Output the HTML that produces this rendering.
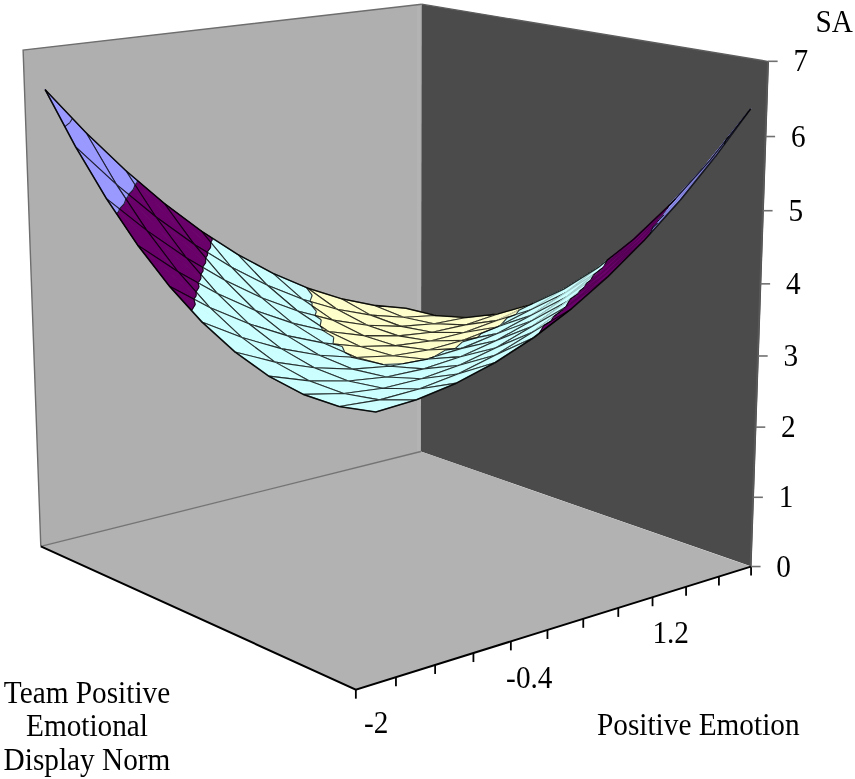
<!DOCTYPE html>
<html><head><meta charset="utf-8"><style>
html,body{margin:0;padding:0;background:#fff;}
body{width:855px;height:779px;overflow:hidden;position:relative;}
svg{position:absolute;left:0;top:0;will-change:transform;}
</style></head><body>
<svg width="855" height="779" viewBox="0 0 855 779">
<polygon points="40.8,546.3 23.1,50.1 421.6,4.2 420.9,451.5" fill="#afafaf"/>
<polyline points="40.8,546.3 23.1,50.1 421.6,4.2" fill="none" stroke="#6e6e6e" stroke-width="1.4"/>
<polygon points="420.9,451.5 421.6,4.2 769.0,61.6 751.5999999999999,566.6" fill="#4b4b4b"/>
<line x1="767.9000000000001" y1="61.6" x2="750.5" y2="566.6" stroke="#585858" stroke-width="1.8"/>
<polyline points="421.6,4.2 769.0,61.6" fill="none" stroke="#5e5e5e" stroke-width="1.3"/>
<line x1="418.5" y1="6" x2="418.5" y2="452" stroke="#b3b3b3" stroke-width="3"/>
<polygon points="355.8,689.6 750.8,566.6 420.9,451.5 40.8,546.3" fill="#b2b2b2"/>
<line x1="40.8" y1="546.3" x2="420.9" y2="451.5" stroke="#747474" stroke-width="1.3"/>
<g fill="none" transform="translate(0.6,0.8)"><polygon points="402.93,316.38 435.16,314.72 373.19,304.49" fill="#FFFFCC" stroke="#FFFFCC" stroke-width="0.8"/>
<polygon points="435.16,314.72 405.34,307.41 373.19,304.49" fill="#FFFFCC" stroke="#FFFFCC" stroke-width="0.8"/>
<polygon points="402.93,316.38 435.16,314.72 405.34,307.41 373.19,304.49" fill="none" stroke="#000" stroke-opacity="0.8" stroke-width="1.1" stroke-linejoin="round"/>
<polygon points="370.04,314.31 402.93,316.38 340.36,297.79" fill="#FFFFCC" stroke="#FFFFCC" stroke-width="0.8"/>
<polygon points="402.93,316.38 373.19,304.49 340.36,297.79" fill="#FFFFCC" stroke="#FFFFCC" stroke-width="0.8"/>
<polygon points="370.04,314.31 402.93,316.38 373.19,304.49 340.36,297.79" fill="none" stroke="#000" stroke-opacity="0.8" stroke-width="1.1" stroke-linejoin="round"/>
<polygon points="433.41,322.98 465.77,316.69 402.93,316.38" fill="#FFFFCC" stroke="#FFFFCC" stroke-width="0.8"/>
<polygon points="465.77,316.69 435.16,314.72 402.93,316.38" fill="#FFFFCC" stroke="#FFFFCC" stroke-width="0.8"/>
<polygon points="433.41,322.98 465.77,316.69 435.16,314.72 402.93,316.38" fill="none" stroke="#000" stroke-opacity="0.8" stroke-width="1.1" stroke-linejoin="round"/>
<polygon points="336.42,308.40 370.04,314.31 306.77,287.18" fill="#FFFFCC" stroke="#FFFFCC" stroke-width="0.8"/>
<polygon points="370.04,314.31 340.36,297.79 306.77,287.18" fill="#FFFFCC" stroke="#FFFFCC" stroke-width="0.8"/>
<polygon points="336.42,308.40 370.04,314.31 340.36,297.79 306.77,287.18" fill="none" stroke="#000" stroke-opacity="0.8" stroke-width="1.1" stroke-linejoin="round"/>
<polygon points="400.42,325.59 433.41,322.98 370.04,314.31" fill="#FFFFCC" stroke="#FFFFCC" stroke-width="0.8"/>
<polygon points="433.41,322.98 402.93,316.38 370.04,314.31" fill="#FFFFCC" stroke="#FFFFCC" stroke-width="0.8"/>
<polygon points="400.42,325.59 433.41,322.98 402.93,316.38 370.04,314.31" fill="none" stroke="#000" stroke-opacity="0.8" stroke-width="1.1" stroke-linejoin="round"/>
<polygon points="464.71,324.11 497.23,313.11 433.41,322.98" fill="#FFFFCC" stroke="#FFFFCC" stroke-width="0.8"/>
<polygon points="497.23,313.11 465.77,316.69 433.41,322.98" fill="#FFFFCC" stroke="#FFFFCC" stroke-width="0.8"/>
<polygon points="464.71,324.11 497.23,313.11 465.77,316.69 433.41,322.98" fill="none" stroke="#000" stroke-opacity="0.8" stroke-width="1.1" stroke-linejoin="round"/>
<polygon points="309.35,300.62 336.42,308.40 311.61,294.50" fill="#FFFFCC" stroke="#FFFFCC" stroke-width="0.8"/>
<polygon points="302.01,298.51 309.35,300.62 311.61,294.50 272.36,272.51" fill="#CCFFFF" stroke="#CCFFFF" stroke-width="0.8"/>
<polygon points="336.42,308.40 306.77,287.18 305.90,286.81 311.61,294.50" fill="#FFFFCC" stroke="#FFFFCC" stroke-width="0.8"/>
<polygon points="305.90,286.81 272.36,272.51 311.61,294.50" fill="#CCFFFF" stroke="#CCFFFF" stroke-width="0.8"/>
<polyline points="309.35,300.62 311.61,294.50" stroke="#000" stroke-opacity="0.8" stroke-width="1.1"/>
<polyline points="305.90,286.81 311.61,294.50" stroke="#000" stroke-opacity="0.8" stroke-width="1.1"/>
<polygon points="302.01,298.51 336.42,308.40 306.77,287.18 272.36,272.51" fill="none" stroke="#000" stroke-opacity="0.8" stroke-width="1.1" stroke-linejoin="round"/>
<polygon points="366.74,324.42 400.42,325.59 336.42,308.40" fill="#FFFFCC" stroke="#FFFFCC" stroke-width="0.8"/>
<polygon points="400.42,325.59 370.04,314.31 336.42,308.40" fill="#FFFFCC" stroke="#FFFFCC" stroke-width="0.8"/>
<polygon points="366.74,324.42 400.42,325.59 370.04,314.31 336.42,308.40" fill="none" stroke="#000" stroke-opacity="0.8" stroke-width="1.1" stroke-linejoin="round"/>
<polygon points="431.58,331.47 464.71,324.11 400.42,325.59" fill="#FFFFCC" stroke="#FFFFCC" stroke-width="0.8"/>
<polygon points="464.71,324.11 433.41,322.98 400.42,325.59" fill="#FFFFCC" stroke="#FFFFCC" stroke-width="0.8"/>
<polygon points="431.58,331.47 464.71,324.11 433.41,322.98 400.42,325.59" fill="none" stroke="#000" stroke-opacity="0.8" stroke-width="1.1" stroke-linejoin="round"/>
<polygon points="496.91,319.54 529.64,303.75 464.71,324.11" fill="#FFFFCC" stroke="#FFFFCC" stroke-width="0.8"/>
<polygon points="529.64,303.75 497.23,313.11 464.71,324.11" fill="#FFFFCC" stroke="#FFFFCC" stroke-width="0.8"/>
<polygon points="496.91,319.54 529.64,303.75 497.23,313.11 464.71,324.11" fill="none" stroke="#000" stroke-opacity="0.8" stroke-width="1.1" stroke-linejoin="round"/>
<polygon points="332.30,319.34 366.74,324.42 311.67,302.38 311.14,304.79" fill="#FFFFCC" stroke="#FFFFCC" stroke-width="0.8"/>
<polygon points="311.67,302.38 302.01,298.51 311.14,304.79" fill="#CCFFFF" stroke="#CCFFFF" stroke-width="0.8"/>
<polygon points="366.74,324.42 336.42,308.40 309.35,300.62 311.67,302.38" fill="#FFFFCC" stroke="#FFFFCC" stroke-width="0.8"/>
<polygon points="309.35,300.62 302.01,298.51 311.67,302.38" fill="#CCFFFF" stroke="#CCFFFF" stroke-width="0.8"/>
<polyline points="311.67,302.38 311.14,304.79" stroke="#000" stroke-opacity="0.8" stroke-width="1.1"/>
<polyline points="309.35,300.62 311.67,302.38" stroke="#000" stroke-opacity="0.8" stroke-width="1.1"/>
<polygon points="332.30,319.34 366.74,324.42 336.42,308.40 302.01,298.51" fill="none" stroke="#000" stroke-opacity="0.8" stroke-width="1.1" stroke-linejoin="round"/>
<polygon points="266.76,284.49 302.01,298.51 237.07,253.63" fill="#CCFFFF" stroke="#CCFFFF" stroke-width="0.8"/>
<polygon points="302.01,298.51 272.36,272.51 237.07,253.63" fill="#CCFFFF" stroke="#CCFFFF" stroke-width="0.8"/>
<polygon points="266.76,284.49 302.01,298.51 272.36,272.51 237.07,253.63" fill="none" stroke="#000" stroke-opacity="0.8" stroke-width="1.1" stroke-linejoin="round"/>
<polygon points="397.79,335.08 431.58,331.47 366.74,324.42" fill="#FFFFCC" stroke="#FFFFCC" stroke-width="0.8"/>
<polygon points="431.58,331.47 400.42,325.59 366.74,324.42" fill="#FFFFCC" stroke="#FFFFCC" stroke-width="0.8"/>
<polygon points="397.79,335.08 431.58,331.47 400.42,325.59 366.74,324.42" fill="none" stroke="#000" stroke-opacity="0.8" stroke-width="1.1" stroke-linejoin="round"/>
<polygon points="463.60,331.72 496.91,319.54 431.58,331.47" fill="#FFFFCC" stroke="#FFFFCC" stroke-width="0.8"/>
<polygon points="496.91,319.54 464.71,324.11 431.58,331.47" fill="#FFFFCC" stroke="#FFFFCC" stroke-width="0.8"/>
<polygon points="463.60,331.72 496.91,319.54 464.71,324.11 431.58,331.47" fill="none" stroke="#000" stroke-opacity="0.8" stroke-width="1.1" stroke-linejoin="round"/>
<polygon points="518.52,309.35 496.91,319.54 515.23,313.74" fill="#FFFFCC" stroke="#FFFFCC" stroke-width="0.8"/>
<polygon points="530.11,309.03 563.09,288.34 518.52,309.35 515.23,313.74" fill="#CCFFFF" stroke="#CCFFFF" stroke-width="0.8"/>
<polygon points="532.33,302.51 529.64,303.75 496.91,319.54 518.52,309.35" fill="#FFFFCC" stroke="#FFFFCC" stroke-width="0.8"/>
<polygon points="563.09,288.34 532.33,302.51 518.52,309.35" fill="#CCFFFF" stroke="#CCFFFF" stroke-width="0.8"/>
<polyline points="518.52,309.35 515.23,313.74" stroke="#000" stroke-opacity="0.8" stroke-width="1.1"/>
<polyline points="532.33,302.51 518.52,309.35" stroke="#000" stroke-opacity="0.8" stroke-width="1.1"/>
<polygon points="530.11,309.03 563.09,288.34 529.64,303.75 496.91,319.54" fill="none" stroke="#000" stroke-opacity="0.2" stroke-width="1.1" stroke-linejoin="round"/>
<polygon points="314.41,314.71 332.30,319.34 315.81,310.58" fill="#FFFFCC" stroke="#FFFFCC" stroke-width="0.8"/>
<polygon points="297.04,310.21 314.41,314.71 315.81,310.58 266.76,284.49" fill="#CCFFFF" stroke="#CCFFFF" stroke-width="0.8"/>
<polygon points="332.30,319.34 311.14,304.79 315.81,310.58" fill="#FFFFCC" stroke="#FFFFCC" stroke-width="0.8"/>
<polygon points="311.14,304.79 302.01,298.51 266.76,284.49 315.81,310.58" fill="#CCFFFF" stroke="#CCFFFF" stroke-width="0.8"/>
<polyline points="314.41,314.71 315.81,310.58" stroke="#000" stroke-opacity="0.8" stroke-width="1.1"/>
<polyline points="311.14,304.79 315.81,310.58" stroke="#000" stroke-opacity="0.8" stroke-width="1.1"/>
<polygon points="297.04,310.21 332.30,319.34 302.01,298.51 266.76,284.49" fill="none" stroke="#000" stroke-opacity="0.8" stroke-width="1.1" stroke-linejoin="round"/>
<polygon points="363.27,334.85 397.79,335.08 332.30,319.34" fill="#FFFFCC" stroke="#FFFFCC" stroke-width="0.8"/>
<polygon points="397.79,335.08 366.74,324.42 332.30,319.34" fill="#FFFFCC" stroke="#FFFFCC" stroke-width="0.8"/>
<polygon points="363.27,334.85 397.79,335.08 366.74,324.42 332.30,319.34" fill="none" stroke="#000" stroke-opacity="0.8" stroke-width="1.1" stroke-linejoin="round"/>
<polygon points="230.58,266.18 266.76,284.49 211.63,239.22 210.08,241.49" fill="#CCFFFF" stroke="#CCFFFF" stroke-width="0.8"/>
<polygon points="211.63,239.22 200.82,230.34 210.08,241.49" fill="#6a006a" stroke="#6a006a" stroke-width="0.8"/>
<polygon points="266.76,284.49 237.07,253.63 211.33,237.10 211.63,239.22" fill="#CCFFFF" stroke="#CCFFFF" stroke-width="0.8"/>
<polygon points="211.33,237.10 200.82,230.34 211.63,239.22" fill="#6a006a" stroke="#6a006a" stroke-width="0.8"/>
<polyline points="211.63,239.22 210.08,241.49" stroke="#000" stroke-opacity="0.8" stroke-width="1.1"/>
<polyline points="211.33,237.10 211.63,239.22" stroke="#000" stroke-opacity="0.8" stroke-width="1.1"/>
<polygon points="230.58,266.18 266.76,284.49 237.07,253.63 200.82,230.34" fill="none" stroke="#000" stroke-opacity="0.8" stroke-width="1.1" stroke-linejoin="round"/>
<polygon points="429.66,340.20 463.60,331.72 397.79,335.08" fill="#FFFFCC" stroke="#FFFFCC" stroke-width="0.8"/>
<polygon points="463.60,331.72 431.58,331.47 397.79,335.08" fill="#FFFFCC" stroke="#FFFFCC" stroke-width="0.8"/>
<polygon points="429.66,340.20 463.60,331.72 431.58,331.47 397.79,335.08" fill="none" stroke="#000" stroke-opacity="0.8" stroke-width="1.1" stroke-linejoin="round"/>
<polygon points="496.58,326.12 500.19,324.28 506.52,317.08 463.60,331.72" fill="#FFFFCC" stroke="#FFFFCC" stroke-width="0.8"/>
<polygon points="500.19,324.28 530.11,309.03 506.52,317.08" fill="#CCFFFF" stroke="#CCFFFF" stroke-width="0.8"/>
<polygon points="515.23,313.74 496.91,319.54 463.60,331.72 506.52,317.08" fill="#FFFFCC" stroke="#FFFFCC" stroke-width="0.8"/>
<polygon points="530.11,309.03 515.23,313.74 506.52,317.08" fill="#CCFFFF" stroke="#CCFFFF" stroke-width="0.8"/>
<polyline points="500.19,324.28 506.52,317.08" stroke="#000" stroke-opacity="0.8" stroke-width="1.1"/>
<polyline points="515.23,313.74 506.52,317.08" stroke="#000" stroke-opacity="0.8" stroke-width="1.1"/>
<polygon points="496.58,326.12 530.11,309.03 496.91,319.54 463.60,331.72" fill="none" stroke="#000" stroke-opacity="0.8" stroke-width="1.1" stroke-linejoin="round"/>
<polygon points="327.97,330.64 363.27,334.85 320.63,318.99 319.59,325.11" fill="#FFFFCC" stroke="#FFFFCC" stroke-width="0.8"/>
<polygon points="320.63,318.99 297.04,310.21 319.59,325.11" fill="#CCFFFF" stroke="#CCFFFF" stroke-width="0.8"/>
<polygon points="363.27,334.85 332.30,319.34 314.41,314.71 320.63,318.99" fill="#FFFFCC" stroke="#FFFFCC" stroke-width="0.8"/>
<polygon points="314.41,314.71 297.04,310.21 320.63,318.99" fill="#CCFFFF" stroke="#CCFFFF" stroke-width="0.8"/>
<polyline points="320.63,318.99 319.59,325.11" stroke="#000" stroke-opacity="0.8" stroke-width="1.1"/>
<polyline points="314.41,314.71 320.63,318.99" stroke="#000" stroke-opacity="0.8" stroke-width="1.1"/>
<polygon points="327.97,330.64 363.27,334.85 332.30,319.34 297.04,310.21" fill="none" stroke="#000" stroke-opacity="0.8" stroke-width="1.1" stroke-linejoin="round"/>
<polygon points="260.89,296.88 297.04,310.21 230.58,266.18" fill="#CCFFFF" stroke="#CCFFFF" stroke-width="0.8"/>
<polygon points="297.04,310.21 266.76,284.49 230.58,266.18" fill="#CCFFFF" stroke="#CCFFFF" stroke-width="0.8"/>
<polygon points="260.89,296.88 297.04,310.21 266.76,284.49 230.58,266.18" fill="none" stroke="#000" stroke-opacity="0.8" stroke-width="1.1" stroke-linejoin="round"/>
<polygon points="395.03,344.87 429.66,340.20 363.27,334.85" fill="#FFFFCC" stroke="#FFFFCC" stroke-width="0.8"/>
<polygon points="429.66,340.20 397.79,335.08 363.27,334.85" fill="#FFFFCC" stroke="#FFFFCC" stroke-width="0.8"/>
<polygon points="395.03,344.87 429.66,340.20 397.79,335.08 363.27,334.85" fill="none" stroke="#000" stroke-opacity="0.8" stroke-width="1.1" stroke-linejoin="round"/>
<polygon points="564.40,292.27 597.68,266.56 530.11,309.03" fill="#CCFFFF" stroke="#CCFFFF" stroke-width="0.8"/>
<polygon points="597.68,266.56 563.09,288.34 530.11,309.03" fill="#CCFFFF" stroke="#CCFFFF" stroke-width="0.8"/>
<polygon points="564.40,292.27 597.68,266.56 563.09,288.34 530.11,309.03" fill="none" stroke="#000" stroke-opacity="0.2" stroke-width="1.1" stroke-linejoin="round"/>
<polygon points="206.56,251.46 230.58,266.18 210.01,246.63" fill="#CCFFFF" stroke="#CCFFFF" stroke-width="0.8"/>
<polygon points="193.40,243.39 206.56,251.46 210.01,246.63 163.53,202.46" fill="#6a006a" stroke="#6a006a" stroke-width="0.8"/>
<polygon points="230.58,266.18 210.08,241.49 210.01,246.63" fill="#CCFFFF" stroke="#CCFFFF" stroke-width="0.8"/>
<polygon points="210.08,241.49 200.82,230.34 163.53,202.46 210.01,246.63" fill="#6a006a" stroke="#6a006a" stroke-width="0.8"/>
<polyline points="206.56,251.46 210.01,246.63" stroke="#000" stroke-opacity="0.8" stroke-width="1.1"/>
<polyline points="210.08,241.49 210.01,246.63" stroke="#000" stroke-opacity="0.8" stroke-width="1.1"/>
<polygon points="193.40,243.39 230.58,266.18 200.82,230.34 163.53,202.46" fill="none" stroke="#000" stroke-opacity="0.8" stroke-width="1.1" stroke-linejoin="round"/>
<polygon points="462.45,339.54 496.58,326.12 429.66,340.20" fill="#FFFFCC" stroke="#FFFFCC" stroke-width="0.8"/>
<polygon points="496.58,326.12 463.60,331.72 429.66,340.20" fill="#FFFFCC" stroke="#FFFFCC" stroke-width="0.8"/>
<polygon points="462.45,339.54 496.58,326.12 463.60,331.72 429.66,340.20" fill="none" stroke="#000" stroke-opacity="0.8" stroke-width="1.1" stroke-linejoin="round"/>
<polygon points="498.58,325.12 496.58,326.12 498.27,325.53" fill="#FFFFCC" stroke="#FFFFCC" stroke-width="0.8"/>
<polygon points="530.60,314.39 564.40,292.27 498.58,325.12 498.27,325.53" fill="#CCFFFF" stroke="#CCFFFF" stroke-width="0.8"/>
<polygon points="500.19,324.28 496.58,326.12 498.58,325.12" fill="#FFFFCC" stroke="#FFFFCC" stroke-width="0.8"/>
<polygon points="564.40,292.27 530.11,309.03 500.19,324.28 498.58,325.12" fill="#CCFFFF" stroke="#CCFFFF" stroke-width="0.8"/>
<polyline points="498.58,325.12 498.27,325.53" stroke="#000" stroke-opacity="0.8" stroke-width="1.1"/>
<polyline points="500.19,324.28 498.58,325.12" stroke="#000" stroke-opacity="0.8" stroke-width="1.1"/>
<polygon points="530.60,314.39 564.40,292.27 530.11,309.03 496.58,326.12" fill="none" stroke="#000" stroke-opacity="0.8" stroke-width="1.1" stroke-linejoin="round"/>
<polygon points="321.17,329.08 327.97,330.64 321.66,327.47" fill="#FFFFCC" stroke="#FFFFCC" stroke-width="0.8"/>
<polygon points="291.82,322.31 321.17,329.08 321.66,327.47 260.89,296.88" fill="#CCFFFF" stroke="#CCFFFF" stroke-width="0.8"/>
<polygon points="327.97,330.64 319.59,325.11 321.66,327.47" fill="#FFFFCC" stroke="#FFFFCC" stroke-width="0.8"/>
<polygon points="319.59,325.11 297.04,310.21 260.89,296.88 321.66,327.47" fill="#CCFFFF" stroke="#CCFFFF" stroke-width="0.8"/>
<polyline points="321.17,329.08 321.66,327.47" stroke="#000" stroke-opacity="0.8" stroke-width="1.1"/>
<polyline points="319.59,325.11 321.66,327.47" stroke="#000" stroke-opacity="0.8" stroke-width="1.1"/>
<polygon points="291.82,322.31 327.97,330.64 297.04,310.21 260.89,296.88" fill="none" stroke="#000" stroke-opacity="0.8" stroke-width="1.1" stroke-linejoin="round"/>
<polygon points="359.64,345.63 395.03,344.87 327.97,330.64" fill="#FFFFCC" stroke="#FFFFCC" stroke-width="0.8"/>
<polygon points="395.03,344.87 363.27,334.85 327.97,330.64" fill="#FFFFCC" stroke="#FFFFCC" stroke-width="0.8"/>
<polygon points="359.64,345.63 395.03,344.87 363.27,334.85 327.97,330.64" fill="none" stroke="#000" stroke-opacity="0.8" stroke-width="1.1" stroke-linejoin="round"/>
<polygon points="223.78,279.18 260.89,296.88 207.01,254.18 205.05,257.11" fill="#CCFFFF" stroke="#CCFFFF" stroke-width="0.8"/>
<polygon points="207.01,254.18 193.40,243.39 205.05,257.11" fill="#6a006a" stroke="#6a006a" stroke-width="0.8"/>
<polygon points="260.89,296.88 230.58,266.18 206.56,251.46 207.01,254.18" fill="#CCFFFF" stroke="#CCFFFF" stroke-width="0.8"/>
<polygon points="206.56,251.46 193.40,243.39 207.01,254.18" fill="#6a006a" stroke="#6a006a" stroke-width="0.8"/>
<polyline points="207.01,254.18 205.05,257.11" stroke="#000" stroke-opacity="0.8" stroke-width="1.1"/>
<polyline points="206.56,251.46 207.01,254.18" stroke="#000" stroke-opacity="0.8" stroke-width="1.1"/>
<polygon points="223.78,279.18 260.89,296.88 230.58,266.18 193.40,243.39" fill="none" stroke="#000" stroke-opacity="0.8" stroke-width="1.1" stroke-linejoin="round"/>
<polygon points="427.65,349.19 462.45,339.54 395.03,344.87" fill="#FFFFCC" stroke="#FFFFCC" stroke-width="0.8"/>
<polygon points="462.45,339.54 429.66,340.20 395.03,344.87" fill="#FFFFCC" stroke="#FFFFCC" stroke-width="0.8"/>
<polygon points="427.65,349.19 462.45,339.54 429.66,340.20 395.03,344.87" fill="none" stroke="#000" stroke-opacity="0.8" stroke-width="1.1" stroke-linejoin="round"/>
<polygon points="155.14,215.92 193.40,243.39 136.41,181.93 134.41,184.04" fill="#6a006a" stroke="#6a006a" stroke-width="0.8"/>
<polygon points="136.41,181.93 125.13,169.77 134.41,184.04" fill="#9999FF" stroke="#9999FF" stroke-width="0.8"/>
<polygon points="193.40,243.39 163.53,202.46 136.96,179.85 136.41,181.93" fill="#6a006a" stroke="#6a006a" stroke-width="0.8"/>
<polygon points="136.96,179.85 125.13,169.77 136.41,181.93" fill="#9999FF" stroke="#9999FF" stroke-width="0.8"/>
<polyline points="136.41,181.93 134.41,184.04" stroke="#000" stroke-opacity="0.8" stroke-width="1.1"/>
<polyline points="136.96,179.85 136.41,181.93" stroke="#000" stroke-opacity="0.8" stroke-width="1.1"/>
<polygon points="155.14,215.92 193.40,243.39 163.53,202.46 125.13,169.77" fill="none" stroke="#000" stroke-opacity="0.8" stroke-width="1.1" stroke-linejoin="round"/>
<polygon points="599.90,268.95 603.12,266.00 606.74,259.08 564.40,292.27" fill="#CCFFFF" stroke="#CCFFFF" stroke-width="0.8"/>
<polygon points="603.12,266.00 633.54,238.07 606.74,259.08" fill="#6a006a" stroke="#6a006a" stroke-width="0.8"/>
<polygon points="612.48,254.81 597.68,266.56 564.40,292.27 606.74,259.08" fill="#CCFFFF" stroke="#CCFFFF" stroke-width="0.8"/>
<polygon points="633.54,238.07 612.48,254.81 606.74,259.08" fill="#6a006a" stroke="#6a006a" stroke-width="0.8"/>
<polyline points="603.12,266.00 606.74,259.08" stroke="#000" stroke-opacity="0.8" stroke-width="1.1"/>
<polyline points="612.48,254.81 606.74,259.08" stroke="#000" stroke-opacity="0.8" stroke-width="1.1"/>
<polygon points="599.90,268.95 633.54,238.07 597.68,266.56 564.40,292.27" fill="none" stroke="#000" stroke-opacity="0.2" stroke-width="1.1" stroke-linejoin="round"/>
<polygon points="480.19,332.99 462.45,339.54 477.05,336.65" fill="#FFFFCC" stroke="#FFFFCC" stroke-width="0.8"/>
<polygon points="496.23,332.85 530.60,314.39 480.19,332.99 477.05,336.65" fill="#CCFFFF" stroke="#CCFFFF" stroke-width="0.8"/>
<polygon points="498.27,325.53 496.58,326.12 462.45,339.54 480.19,332.99" fill="#FFFFCC" stroke="#FFFFCC" stroke-width="0.8"/>
<polygon points="530.60,314.39 498.27,325.53 480.19,332.99" fill="#CCFFFF" stroke="#CCFFFF" stroke-width="0.8"/>
<polyline points="480.19,332.99 477.05,336.65" stroke="#000" stroke-opacity="0.8" stroke-width="1.1"/>
<polyline points="498.27,325.53 480.19,332.99" stroke="#000" stroke-opacity="0.8" stroke-width="1.1"/>
<polygon points="496.23,332.85 530.60,314.39 496.58,326.12 462.45,339.54" fill="none" stroke="#000" stroke-opacity="0.8" stroke-width="1.1" stroke-linejoin="round"/>
<polygon points="254.73,309.70 291.82,322.31 223.78,279.18" fill="#CCFFFF" stroke="#CCFFFF" stroke-width="0.8"/>
<polygon points="291.82,322.31 260.89,296.88 223.78,279.18" fill="#CCFFFF" stroke="#CCFFFF" stroke-width="0.8"/>
<polygon points="254.73,309.70 291.82,322.31 260.89,296.88 223.78,279.18" fill="none" stroke="#000" stroke-opacity="0.8" stroke-width="1.1" stroke-linejoin="round"/>
<polygon points="332.43,343.15 359.64,345.63 333.14,336.52" fill="#FFFFCC" stroke="#FFFFCC" stroke-width="0.8"/>
<polygon points="323.44,342.33 332.43,343.15 333.14,336.52 291.82,322.31" fill="#CCFFFF" stroke="#CCFFFF" stroke-width="0.8"/>
<polygon points="359.64,345.63 327.97,330.64 321.17,329.08 333.14,336.52" fill="#FFFFCC" stroke="#FFFFCC" stroke-width="0.8"/>
<polygon points="321.17,329.08 291.82,322.31 333.14,336.52" fill="#CCFFFF" stroke="#CCFFFF" stroke-width="0.8"/>
<polyline points="332.43,343.15 333.14,336.52" stroke="#000" stroke-opacity="0.8" stroke-width="1.1"/>
<polyline points="321.17,329.08 333.14,336.52" stroke="#000" stroke-opacity="0.8" stroke-width="1.1"/>
<polygon points="323.44,342.33 359.64,345.63 327.97,330.64 291.82,322.31" fill="none" stroke="#000" stroke-opacity="0.8" stroke-width="1.1" stroke-linejoin="round"/>
<polygon points="201.94,266.43 223.78,279.18 205.08,261.94" fill="#CCFFFF" stroke="#CCFFFF" stroke-width="0.8"/>
<polygon points="185.62,256.91 201.94,266.43 205.08,261.94 155.14,215.92" fill="#6a006a" stroke="#6a006a" stroke-width="0.8"/>
<polygon points="223.78,279.18 205.05,257.11 205.08,261.94" fill="#CCFFFF" stroke="#CCFFFF" stroke-width="0.8"/>
<polygon points="205.05,257.11 193.40,243.39 155.14,215.92 205.08,261.94" fill="#6a006a" stroke="#6a006a" stroke-width="0.8"/>
<polyline points="201.94,266.43 205.08,261.94" stroke="#000" stroke-opacity="0.8" stroke-width="1.1"/>
<polyline points="205.05,257.11 205.08,261.94" stroke="#000" stroke-opacity="0.8" stroke-width="1.1"/>
<polygon points="185.62,256.91 223.78,279.18 193.40,243.39 155.14,215.92" fill="none" stroke="#000" stroke-opacity="0.8" stroke-width="1.1" stroke-linejoin="round"/>
<polygon points="392.14,354.97 427.65,349.19 359.64,345.63" fill="#FFFFCC" stroke="#FFFFCC" stroke-width="0.8"/>
<polygon points="427.65,349.19 395.03,344.87 359.64,345.63" fill="#FFFFCC" stroke="#FFFFCC" stroke-width="0.8"/>
<polygon points="392.14,354.97 427.65,349.19 395.03,344.87 359.64,345.63" fill="none" stroke="#000" stroke-opacity="0.8" stroke-width="1.1" stroke-linejoin="round"/>
<polygon points="565.78,296.23 599.90,268.95 530.60,314.39" fill="#CCFFFF" stroke="#CCFFFF" stroke-width="0.8"/>
<polygon points="599.90,268.95 564.40,292.27 530.60,314.39" fill="#CCFFFF" stroke="#CCFFFF" stroke-width="0.8"/>
<polygon points="565.78,296.23 599.90,268.95 564.40,292.27 530.60,314.39" fill="none" stroke="#000" stroke-opacity="0.2" stroke-width="1.1" stroke-linejoin="round"/>
<polygon points="128.00,193.63 155.14,215.92 132.66,188.83" fill="#6a006a" stroke="#6a006a" stroke-width="0.8"/>
<polygon points="115.71,183.54 128.00,193.63 132.66,188.83 85.51,132.02" fill="#9999FF" stroke="#9999FF" stroke-width="0.8"/>
<polygon points="155.14,215.92 134.41,184.04 132.66,188.83" fill="#6a006a" stroke="#6a006a" stroke-width="0.8"/>
<polygon points="134.41,184.04 125.13,169.77 85.51,132.02 132.66,188.83" fill="#9999FF" stroke="#9999FF" stroke-width="0.8"/>
<polyline points="128.00,193.63 132.66,188.83" stroke="#000" stroke-opacity="0.8" stroke-width="1.1"/>
<polyline points="134.41,184.04 132.66,188.83" stroke="#000" stroke-opacity="0.8" stroke-width="1.1"/>
<polygon points="115.71,183.54 155.14,215.92 125.13,169.77 85.51,132.02" fill="none" stroke="#000" stroke-opacity="0.8" stroke-width="1.1" stroke-linejoin="round"/>
<polygon points="461.83,341.05 427.65,349.19 454.45,347.90" fill="#FFFFCC" stroke="#FFFFCC" stroke-width="0.8"/>
<polygon points="461.23,347.58 496.23,332.85 461.83,341.05 454.45,347.90" fill="#CCFFFF" stroke="#CCFFFF" stroke-width="0.8"/>
<polygon points="477.05,336.65 462.45,339.54 427.65,349.19 461.83,341.05" fill="#FFFFCC" stroke="#FFFFCC" stroke-width="0.8"/>
<polygon points="496.23,332.85 477.05,336.65 461.83,341.05" fill="#CCFFFF" stroke="#CCFFFF" stroke-width="0.8"/>
<polyline points="461.83,341.05 454.45,347.90" stroke="#000" stroke-opacity="0.8" stroke-width="1.1"/>
<polyline points="477.05,336.65 461.83,341.05" stroke="#000" stroke-opacity="0.8" stroke-width="1.1"/>
<polygon points="461.23,347.58 496.23,332.85 462.45,339.54 427.65,349.19" fill="none" stroke="#000" stroke-opacity="0.8" stroke-width="1.1" stroke-linejoin="round"/>
<polygon points="602.28,266.72 599.90,268.95 602.06,267.18" fill="#CCFFFF" stroke="#CCFFFF" stroke-width="0.8"/>
<polygon points="636.74,238.68 670.78,202.48 602.28,266.72 602.06,267.18" fill="#6a006a" stroke="#6a006a" stroke-width="0.8"/>
<polygon points="603.12,266.00 599.90,268.95 602.28,266.72" fill="#CCFFFF" stroke="#CCFFFF" stroke-width="0.8"/>
<polygon points="670.78,202.48 633.54,238.07 603.12,266.00 602.28,266.72" fill="#6a006a" stroke="#6a006a" stroke-width="0.8"/>
<polyline points="602.28,266.72 602.06,267.18" stroke="#000" stroke-opacity="0.8" stroke-width="1.1"/>
<polyline points="603.12,266.00 602.28,266.72" stroke="#000" stroke-opacity="0.8" stroke-width="1.1"/>
<polygon points="636.74,238.68 670.78,202.48 633.54,238.07 599.90,268.95" fill="none" stroke="#000" stroke-opacity="0.2" stroke-width="1.1" stroke-linejoin="round"/>
<polygon points="531.12,319.86 565.78,296.23 496.23,332.85" fill="#CCFFFF" stroke="#CCFFFF" stroke-width="0.8"/>
<polygon points="565.78,296.23 530.60,314.39 496.23,332.85" fill="#CCFFFF" stroke="#CCFFFF" stroke-width="0.8"/>
<polygon points="531.12,319.86 565.78,296.23 530.60,314.39 496.23,332.85" fill="none" stroke="#000" stroke-opacity="0.8" stroke-width="1.1" stroke-linejoin="round"/>
<polygon points="286.33,334.84 323.44,342.33 254.73,309.70" fill="#CCFFFF" stroke="#CCFFFF" stroke-width="0.8"/>
<polygon points="323.44,342.33 291.82,322.31 254.73,309.70" fill="#CCFFFF" stroke="#CCFFFF" stroke-width="0.8"/>
<polygon points="286.33,334.84 323.44,342.33 291.82,322.31 254.73,309.70" fill="none" stroke="#000" stroke-opacity="0.8" stroke-width="1.1" stroke-linejoin="round"/>
<polygon points="216.64,292.64 254.73,309.70 202.60,269.88 200.15,273.64" fill="#CCFFFF" stroke="#CCFFFF" stroke-width="0.8"/>
<polygon points="202.60,269.88 185.62,256.91 200.15,273.64" fill="#6a006a" stroke="#6a006a" stroke-width="0.8"/>
<polygon points="254.73,309.70 223.78,279.18 201.94,266.43 202.60,269.88" fill="#CCFFFF" stroke="#CCFFFF" stroke-width="0.8"/>
<polygon points="201.94,266.43 185.62,256.91 202.60,269.88" fill="#6a006a" stroke="#6a006a" stroke-width="0.8"/>
<polyline points="202.60,269.88 200.15,273.64" stroke="#000" stroke-opacity="0.8" stroke-width="1.1"/>
<polyline points="201.94,266.43 202.60,269.88" stroke="#000" stroke-opacity="0.8" stroke-width="1.1"/>
<polygon points="216.64,292.64 254.73,309.70 223.78,279.18 185.62,256.91" fill="none" stroke="#000" stroke-opacity="0.8" stroke-width="1.1" stroke-linejoin="round"/>
<polygon points="355.83,356.77 392.14,354.97 341.63,345.68 344.28,351.62" fill="#FFFFCC" stroke="#FFFFCC" stroke-width="0.8"/>
<polygon points="341.63,345.68 323.44,342.33 344.28,351.62" fill="#CCFFFF" stroke="#CCFFFF" stroke-width="0.8"/>
<polygon points="392.14,354.97 359.64,345.63 332.43,343.15 341.63,345.68" fill="#FFFFCC" stroke="#FFFFCC" stroke-width="0.8"/>
<polygon points="332.43,343.15 323.44,342.33 341.63,345.68" fill="#CCFFFF" stroke="#CCFFFF" stroke-width="0.8"/>
<polyline points="341.63,345.68 344.28,351.62" stroke="#000" stroke-opacity="0.8" stroke-width="1.1"/>
<polyline points="332.43,343.15 341.63,345.68" stroke="#000" stroke-opacity="0.8" stroke-width="1.1"/>
<polygon points="355.83,356.77 392.14,354.97 359.64,345.63 323.44,342.33" fill="none" stroke="#000" stroke-opacity="0.8" stroke-width="1.1" stroke-linejoin="round"/>
<polygon points="146.34,229.87 185.62,256.91 127.44,195.85 125.33,198.09" fill="#6a006a" stroke="#6a006a" stroke-width="0.8"/>
<polygon points="127.44,195.85 115.71,183.54 125.33,198.09" fill="#9999FF" stroke="#9999FF" stroke-width="0.8"/>
<polygon points="185.62,256.91 155.14,215.92 128.00,193.63 127.44,195.85" fill="#6a006a" stroke="#6a006a" stroke-width="0.8"/>
<polygon points="128.00,193.63 115.71,183.54 127.44,195.85" fill="#9999FF" stroke="#9999FF" stroke-width="0.8"/>
<polyline points="127.44,195.85 125.33,198.09" stroke="#000" stroke-opacity="0.8" stroke-width="1.1"/>
<polyline points="128.00,193.63 127.44,195.85" stroke="#000" stroke-opacity="0.8" stroke-width="1.1"/>
<polygon points="146.34,229.87 185.62,256.91 155.14,215.92 115.71,183.54" fill="none" stroke="#000" stroke-opacity="0.8" stroke-width="1.1" stroke-linejoin="round"/>
<polygon points="425.54,358.47 433.58,356.01 444.68,349.35 392.14,354.97" fill="#FFFFCC" stroke="#FFFFCC" stroke-width="0.8"/>
<polygon points="433.58,356.01 461.23,347.58 444.68,349.35" fill="#CCFFFF" stroke="#CCFFFF" stroke-width="0.8"/>
<polygon points="454.45,347.90 427.65,349.19 392.14,354.97 444.68,349.35" fill="#FFFFCC" stroke="#FFFFCC" stroke-width="0.8"/>
<polygon points="461.23,347.58 454.45,347.90 444.68,349.35" fill="#CCFFFF" stroke="#CCFFFF" stroke-width="0.8"/>
<polyline points="433.58,356.01 444.68,349.35" stroke="#000" stroke-opacity="0.8" stroke-width="1.1"/>
<polyline points="454.45,347.90 444.68,349.35" stroke="#000" stroke-opacity="0.8" stroke-width="1.1"/>
<polygon points="425.54,358.47 461.23,347.58 427.65,349.19 392.14,354.97" fill="none" stroke="#000" stroke-opacity="0.8" stroke-width="1.1" stroke-linejoin="round"/>
<polygon points="592.73,274.37 565.78,296.23 589.95,279.70" fill="#CCFFFF" stroke="#CCFFFF" stroke-width="0.8"/>
<polygon points="602.25,271.28 636.74,238.68 592.73,274.37 589.95,279.70" fill="#6a006a" stroke="#6a006a" stroke-width="0.8"/>
<polygon points="602.06,267.18 599.90,268.95 565.78,296.23 592.73,274.37" fill="#CCFFFF" stroke="#CCFFFF" stroke-width="0.8"/>
<polygon points="636.74,238.68 602.06,267.18 592.73,274.37" fill="#6a006a" stroke="#6a006a" stroke-width="0.8"/>
<polyline points="592.73,274.37 589.95,279.70" stroke="#000" stroke-opacity="0.8" stroke-width="1.1"/>
<polyline points="602.06,267.18 592.73,274.37" stroke="#000" stroke-opacity="0.8" stroke-width="1.1"/>
<polygon points="602.25,271.28 636.74,238.68 599.90,268.95 565.78,296.23" fill="none" stroke="#000" stroke-opacity="0.2" stroke-width="1.1" stroke-linejoin="round"/>
<polygon points="75.01,146.00 115.71,183.54 69.26,121.76 64.24,125.81" fill="#9999FF" stroke="#9999FF" stroke-width="0.8"/>
<polygon points="69.26,121.76 44.58,88.94 64.24,125.81" fill="#9999FF" stroke="#9999FF" stroke-width="0.8"/>
<polygon points="115.71,183.54 85.51,132.02 71.83,117.62 69.26,121.76" fill="#9999FF" stroke="#9999FF" stroke-width="0.8"/>
<polygon points="71.83,117.62 44.58,88.94 69.26,121.76" fill="#9999FF" stroke="#9999FF" stroke-width="0.8"/>
<polyline points="69.26,121.76 64.24,125.81" stroke="#000" stroke-opacity="0.8" stroke-width="1.1"/>
<polyline points="71.83,117.62 69.26,121.76" stroke="#000" stroke-opacity="0.8" stroke-width="1.1"/>
<polygon points="75.01,146.00 115.71,183.54 85.51,132.02 44.58,88.94" fill="none" stroke="#000" stroke-opacity="0.8" stroke-width="1.1" stroke-linejoin="round"/>
<polygon points="495.87,339.76 531.12,319.86 461.23,347.58" fill="#CCFFFF" stroke="#CCFFFF" stroke-width="0.8"/>
<polygon points="531.12,319.86 496.23,332.85 461.23,347.58" fill="#CCFFFF" stroke="#CCFFFF" stroke-width="0.8"/>
<polygon points="495.87,339.76 531.12,319.86 496.23,332.85 461.23,347.58" fill="none" stroke="#000" stroke-opacity="0.8" stroke-width="1.1" stroke-linejoin="round"/>
<polygon points="248.26,322.99 286.33,334.84 216.64,292.64" fill="#CCFFFF" stroke="#CCFFFF" stroke-width="0.8"/>
<polygon points="286.33,334.84 254.73,309.70 216.64,292.64" fill="#CCFFFF" stroke="#CCFFFF" stroke-width="0.8"/>
<polygon points="248.26,322.99 286.33,334.84 254.73,309.70 216.64,292.64" fill="none" stroke="#000" stroke-opacity="0.8" stroke-width="1.1" stroke-linejoin="round"/>
<polygon points="350.44,356.43 355.83,356.77 350.48,355.08" fill="#FFFFCC" stroke="#FFFFCC" stroke-width="0.8"/>
<polygon points="318.67,354.43 350.44,356.43 350.48,355.08 286.33,334.84" fill="#CCFFFF" stroke="#CCFFFF" stroke-width="0.8"/>
<polygon points="355.83,356.77 344.28,351.62 350.48,355.08" fill="#FFFFCC" stroke="#FFFFCC" stroke-width="0.8"/>
<polygon points="344.28,351.62 323.44,342.33 286.33,334.84 350.48,355.08" fill="#CCFFFF" stroke="#CCFFFF" stroke-width="0.8"/>
<polyline points="350.44,356.43 350.48,355.08" stroke="#000" stroke-opacity="0.8" stroke-width="1.1"/>
<polyline points="344.28,351.62 350.48,355.08" stroke="#000" stroke-opacity="0.8" stroke-width="1.1"/>
<polygon points="318.67,354.43 355.83,356.77 323.44,342.33 286.33,334.84" fill="none" stroke="#000" stroke-opacity="0.8" stroke-width="1.1" stroke-linejoin="round"/>
<polygon points="197.50,282.03 216.64,292.64 200.26,278.01" fill="#CCFFFF" stroke="#CCFFFF" stroke-width="0.8"/>
<polygon points="177.46,270.92 197.50,282.03 200.26,278.01 146.34,229.87" fill="#6a006a" stroke="#6a006a" stroke-width="0.8"/>
<polygon points="216.64,292.64 200.15,273.64 200.26,278.01" fill="#CCFFFF" stroke="#CCFFFF" stroke-width="0.8"/>
<polygon points="200.15,273.64 185.62,256.91 146.34,229.87 200.26,278.01" fill="#6a006a" stroke="#6a006a" stroke-width="0.8"/>
<polyline points="197.50,282.03 200.26,278.01" stroke="#000" stroke-opacity="0.8" stroke-width="1.1"/>
<polyline points="200.15,273.64 200.26,278.01" stroke="#000" stroke-opacity="0.8" stroke-width="1.1"/>
<polygon points="177.46,270.92 216.64,292.64 185.62,256.91 146.34,229.87" fill="none" stroke="#000" stroke-opacity="0.8" stroke-width="1.1" stroke-linejoin="round"/>
<polygon points="402.06,362.94 425.54,358.47 355.83,356.77 382.37,363.67" fill="#FFFFCC" stroke="#FFFFCC" stroke-width="0.8"/>
<polygon points="389.09,365.42 402.06,362.94 382.37,363.67" fill="#CCFFFF" stroke="#CCFFFF" stroke-width="0.8"/>
<polygon points="425.54,358.47 392.14,354.97 355.83,356.77" fill="#FFFFCC" stroke="#FFFFCC" stroke-width="0.8"/>
<polyline points="402.06,362.94 382.37,363.67" stroke="#000" stroke-opacity="0.8" stroke-width="1.1"/>
<polygon points="389.09,365.42 425.54,358.47 392.14,354.97 355.83,356.77" fill="none" stroke="#000" stroke-opacity="0.8" stroke-width="1.1" stroke-linejoin="round"/>
<polygon points="567.24,300.22 583.64,286.67 586.09,282.31 531.12,319.86" fill="#CCFFFF" stroke="#CCFFFF" stroke-width="0.8"/>
<polygon points="583.64,286.67 602.25,271.28 586.09,282.31" fill="#6a006a" stroke="#6a006a" stroke-width="0.8"/>
<polygon points="589.95,279.70 565.78,296.23 531.12,319.86 586.09,282.31" fill="#CCFFFF" stroke="#CCFFFF" stroke-width="0.8"/>
<polygon points="602.25,271.28 589.95,279.70 586.09,282.31" fill="#6a006a" stroke="#6a006a" stroke-width="0.8"/>
<polyline points="583.64,286.67 586.09,282.31" stroke="#000" stroke-opacity="0.8" stroke-width="1.1"/>
<polyline points="589.95,279.70 586.09,282.31" stroke="#000" stroke-opacity="0.8" stroke-width="1.1"/>
<polygon points="567.24,300.22 602.25,271.28 565.78,296.23 531.12,319.86" fill="none" stroke="#000" stroke-opacity="0.2" stroke-width="1.1" stroke-linejoin="round"/>
<polygon points="668.29,204.30 636.74,238.68 666.07,209.87" fill="#6a006a" stroke="#6a006a" stroke-width="0.8"/>
<polygon points="675.05,201.05 709.55,159.32 668.29,204.30 666.07,209.87" fill="#9999FF" stroke="#9999FF" stroke-width="0.8"/>
<polygon points="674.76,198.05 670.78,202.48 636.74,238.68 668.29,204.30" fill="#6a006a" stroke="#6a006a" stroke-width="0.8"/>
<polygon points="709.55,159.32 674.76,198.05 668.29,204.30" fill="#9999FF" stroke="#9999FF" stroke-width="0.8"/>
<polyline points="668.29,204.30 666.07,209.87" stroke="#000" stroke-opacity="0.8" stroke-width="1.1"/>
<polyline points="674.76,198.05 668.29,204.30" stroke="#000" stroke-opacity="0.8" stroke-width="1.1"/>
<polygon points="675.05,201.05 709.55,159.32 670.78,202.48 636.74,238.68" fill="none" stroke="#000" stroke-opacity="0.2" stroke-width="1.1" stroke-linejoin="round"/>
<polygon points="118.79,208.07 146.34,229.87 123.56,203.09" fill="#6a006a" stroke="#6a006a" stroke-width="0.8"/>
<polygon points="105.83,197.82 118.79,208.07 123.56,203.09 75.01,146.00" fill="#9999FF" stroke="#9999FF" stroke-width="0.8"/>
<polygon points="146.34,229.87 125.33,198.09 123.56,203.09" fill="#6a006a" stroke="#6a006a" stroke-width="0.8"/>
<polygon points="125.33,198.09 115.71,183.54 75.01,146.00 123.56,203.09" fill="#9999FF" stroke="#9999FF" stroke-width="0.8"/>
<polyline points="118.79,208.07 123.56,203.09" stroke="#000" stroke-opacity="0.8" stroke-width="1.1"/>
<polyline points="125.33,198.09 123.56,203.09" stroke="#000" stroke-opacity="0.8" stroke-width="1.1"/>
<polygon points="105.83,197.82 146.34,229.87 115.71,183.54 75.01,146.00" fill="none" stroke="#000" stroke-opacity="0.8" stroke-width="1.1" stroke-linejoin="round"/>
<polygon points="427.81,357.86 425.54,358.47 427.32,358.33" fill="#FFFFCC" stroke="#FFFFCC" stroke-width="0.8"/>
<polygon points="459.95,355.86 495.87,339.76 427.81,357.86 427.32,358.33" fill="#CCFFFF" stroke="#CCFFFF" stroke-width="0.8"/>
<polygon points="433.58,356.01 425.54,358.47 427.81,357.86" fill="#FFFFCC" stroke="#FFFFCC" stroke-width="0.8"/>
<polygon points="495.87,339.76 461.23,347.58 433.58,356.01 427.81,357.86" fill="#CCFFFF" stroke="#CCFFFF" stroke-width="0.8"/>
<polyline points="427.81,357.86 427.32,358.33" stroke="#000" stroke-opacity="0.8" stroke-width="1.1"/>
<polyline points="433.58,356.01 427.81,357.86" stroke="#000" stroke-opacity="0.8" stroke-width="1.1"/>
<polygon points="459.95,355.86 495.87,339.76 461.23,347.58 425.54,358.47" fill="none" stroke="#000" stroke-opacity="0.8" stroke-width="1.1" stroke-linejoin="round"/>
<polygon points="280.57,347.83 318.67,354.43 248.26,322.99" fill="#CCFFFF" stroke="#CCFFFF" stroke-width="0.8"/>
<polygon points="318.67,354.43 286.33,334.84 248.26,322.99" fill="#CCFFFF" stroke="#CCFFFF" stroke-width="0.8"/>
<polygon points="280.57,347.83 318.67,354.43 286.33,334.84 248.26,322.99" fill="none" stroke="#000" stroke-opacity="0.8" stroke-width="1.1" stroke-linejoin="round"/>
<polygon points="640.12,239.15 663.13,214.06 664.19,211.52 602.25,271.28" fill="#6a006a" stroke="#6a006a" stroke-width="0.8"/>
<polygon points="663.13,214.06 675.05,201.05 664.19,211.52" fill="#9999FF" stroke="#9999FF" stroke-width="0.8"/>
<polygon points="666.07,209.87 636.74,238.68 602.25,271.28 664.19,211.52" fill="#6a006a" stroke="#6a006a" stroke-width="0.8"/>
<polygon points="675.05,201.05 666.07,209.87 664.19,211.52" fill="#9999FF" stroke="#9999FF" stroke-width="0.8"/>
<polyline points="663.13,214.06 664.19,211.52" stroke="#000" stroke-opacity="0.8" stroke-width="1.1"/>
<polyline points="666.07,209.87 664.19,211.52" stroke="#000" stroke-opacity="0.8" stroke-width="1.1"/>
<polygon points="640.12,239.15 675.05,201.05 636.74,238.68 602.25,271.28" fill="none" stroke="#000" stroke-opacity="0.2" stroke-width="1.1" stroke-linejoin="round"/>
<polygon points="531.68,325.44 567.24,300.22 495.87,339.76" fill="#CCFFFF" stroke="#CCFFFF" stroke-width="0.8"/>
<polygon points="567.24,300.22 531.12,319.86 495.87,339.76" fill="#CCFFFF" stroke="#CCFFFF" stroke-width="0.8"/>
<polygon points="531.68,325.44 567.24,300.22 531.12,319.86 495.87,339.76" fill="none" stroke="#000" stroke-opacity="0.8" stroke-width="1.1" stroke-linejoin="round"/>
<polygon points="209.14,306.60 248.26,322.99 198.46,286.37 195.42,291.16" fill="#CCFFFF" stroke="#CCFFFF" stroke-width="0.8"/>
<polygon points="198.46,286.37 177.46,270.92 195.42,291.16" fill="#6a006a" stroke="#6a006a" stroke-width="0.8"/>
<polygon points="248.26,322.99 216.64,292.64 197.50,282.03 198.46,286.37" fill="#CCFFFF" stroke="#CCFFFF" stroke-width="0.8"/>
<polygon points="197.50,282.03 177.46,270.92 198.46,286.37" fill="#6a006a" stroke="#6a006a" stroke-width="0.8"/>
<polyline points="198.46,286.37 195.42,291.16" stroke="#000" stroke-opacity="0.8" stroke-width="1.1"/>
<polyline points="197.50,282.03 198.46,286.37" stroke="#000" stroke-opacity="0.8" stroke-width="1.1"/>
<polygon points="209.14,306.60 248.26,322.99 216.64,292.64 177.46,270.92" fill="none" stroke="#000" stroke-opacity="0.8" stroke-width="1.1" stroke-linejoin="round"/>
<polygon points="351.82,368.30 389.09,365.42 318.67,354.43" fill="#CCFFFF" stroke="#CCFFFF" stroke-width="0.8"/>
<polygon points="382.37,363.67 355.83,356.77 350.44,356.43" fill="#FFFFCC" stroke="#FFFFCC" stroke-width="0.8"/>
<polygon points="389.09,365.42 382.37,363.67 350.44,356.43 318.67,354.43" fill="#CCFFFF" stroke="#CCFFFF" stroke-width="0.8"/>
<polyline points="382.37,363.67 350.44,356.43" stroke="#000" stroke-opacity="0.8" stroke-width="1.1"/>
<polygon points="351.82,368.30 389.09,365.42 355.83,356.77 318.67,354.43" fill="none" stroke="#000" stroke-opacity="0.8" stroke-width="1.1" stroke-linejoin="round"/>
<polygon points="137.09,244.34 177.46,270.92 118.21,210.46 115.96,212.89" fill="#6a006a" stroke="#6a006a" stroke-width="0.8"/>
<polygon points="118.21,210.46 105.83,197.82 115.96,212.89" fill="#9999FF" stroke="#9999FF" stroke-width="0.8"/>
<polygon points="177.46,270.92 146.34,229.87 118.79,208.07 118.21,210.46" fill="#6a006a" stroke="#6a006a" stroke-width="0.8"/>
<polygon points="118.79,208.07 105.83,197.82 118.21,210.46" fill="#9999FF" stroke="#9999FF" stroke-width="0.8"/>
<polyline points="118.21,210.46 115.96,212.89" stroke="#000" stroke-opacity="0.8" stroke-width="1.1"/>
<polyline points="118.79,208.07 118.21,210.46" stroke="#000" stroke-opacity="0.8" stroke-width="1.1"/>
<polygon points="137.09,244.34 177.46,270.92 146.34,229.87 105.83,197.82" fill="none" stroke="#000" stroke-opacity="0.8" stroke-width="1.1" stroke-linejoin="round"/>
<polygon points="423.32,368.05 459.95,355.86 389.09,365.42" fill="#CCFFFF" stroke="#CCFFFF" stroke-width="0.8"/>
<polygon points="427.32,358.33 425.54,358.47 402.06,362.94" fill="#FFFFCC" stroke="#FFFFCC" stroke-width="0.8"/>
<polygon points="459.95,355.86 427.32,358.33 402.06,362.94 389.09,365.42" fill="#CCFFFF" stroke="#CCFFFF" stroke-width="0.8"/>
<polyline points="427.32,358.33 402.06,362.94" stroke="#000" stroke-opacity="0.8" stroke-width="1.1"/>
<polygon points="423.32,368.05 459.95,355.86 425.54,358.47 389.09,365.42" fill="none" stroke="#000" stroke-opacity="0.8" stroke-width="1.1" stroke-linejoin="round"/>
<polygon points="578.92,290.43 567.24,300.22 577.69,292.79" fill="#CCFFFF" stroke="#CCFFFF" stroke-width="0.8"/>
<polygon points="604.72,273.56 640.12,239.15 578.92,290.43 577.69,292.79" fill="#6a006a" stroke="#6a006a" stroke-width="0.8"/>
<polygon points="583.64,286.67 567.24,300.22 578.92,290.43" fill="#CCFFFF" stroke="#CCFFFF" stroke-width="0.8"/>
<polygon points="640.12,239.15 602.25,271.28 583.64,286.67 578.92,290.43" fill="#6a006a" stroke="#6a006a" stroke-width="0.8"/>
<polyline points="578.92,290.43 577.69,292.79" stroke="#000" stroke-opacity="0.8" stroke-width="1.1"/>
<polyline points="583.64,286.67 578.92,290.43" stroke="#000" stroke-opacity="0.8" stroke-width="1.1"/>
<polygon points="604.72,273.56 640.12,239.15 602.25,271.28 567.24,300.22" fill="none" stroke="#000" stroke-opacity="0.2" stroke-width="1.1" stroke-linejoin="round"/>
<polygon points="495.49,346.86 531.68,325.44 459.95,355.86" fill="#CCFFFF" stroke="#CCFFFF" stroke-width="0.8"/>
<polygon points="531.68,325.44 495.87,339.76 459.95,355.86" fill="#CCFFFF" stroke="#CCFFFF" stroke-width="0.8"/>
<polygon points="495.49,346.86 531.68,325.44 495.87,339.76 459.95,355.86" fill="none" stroke="#000" stroke-opacity="0.8" stroke-width="1.1" stroke-linejoin="round"/>
<polygon points="714.98,155.57 723.72,143.72 725.28,138.76 675.05,201.05" fill="#9999FF" stroke="#9999FF" stroke-width="0.8"/>
<polygon points="723.72,143.72 750.02,108.09 725.28,138.76" fill="#9999FF" stroke="#9999FF" stroke-width="0.8"/>
<polygon points="728.45,135.39 709.55,159.32 675.05,201.05 725.28,138.76" fill="#9999FF" stroke="#9999FF" stroke-width="0.8"/>
<polygon points="750.02,108.09 728.45,135.39 725.28,138.76" fill="#9999FF" stroke="#9999FF" stroke-width="0.8"/>
<polyline points="723.72,143.72 725.28,138.76" stroke="#000" stroke-opacity="0.8" stroke-width="1.1"/>
<polyline points="728.45,135.39 725.28,138.76" stroke="#000" stroke-opacity="0.8" stroke-width="1.1"/>
<polygon points="714.98,155.57 750.02,108.09 709.55,159.32 675.05,201.05" fill="none" stroke="#000" stroke-opacity="0.2" stroke-width="1.1" stroke-linejoin="round"/>
<polygon points="241.46,336.79 280.57,347.83 209.14,306.60" fill="#CCFFFF" stroke="#CCFFFF" stroke-width="0.8"/>
<polygon points="280.57,347.83 248.26,322.99 209.14,306.60" fill="#CCFFFF" stroke="#CCFFFF" stroke-width="0.8"/>
<polygon points="241.46,336.79 280.57,347.83 248.26,322.99 209.14,306.60" fill="none" stroke="#000" stroke-opacity="0.8" stroke-width="1.1" stroke-linejoin="round"/>
<polygon points="313.66,366.99 351.82,368.30 280.57,347.83" fill="#CCFFFF" stroke="#CCFFFF" stroke-width="0.8"/>
<polygon points="351.82,368.30 318.67,354.43 280.57,347.83" fill="#CCFFFF" stroke="#CCFFFF" stroke-width="0.8"/>
<polygon points="313.66,366.99 351.82,368.30 318.67,354.43 280.57,347.83" fill="none" stroke="#000" stroke-opacity="0.8" stroke-width="1.1" stroke-linejoin="round"/>
<polygon points="193.32,298.30 209.14,306.60 195.60,294.90" fill="#CCFFFF" stroke="#CCFFFF" stroke-width="0.8"/>
<polygon points="168.87,285.47 193.32,298.30 195.60,294.90 137.09,244.34" fill="#6a006a" stroke="#6a006a" stroke-width="0.8"/>
<polygon points="209.14,306.60 195.42,291.16 195.60,294.90" fill="#CCFFFF" stroke="#CCFFFF" stroke-width="0.8"/>
<polygon points="195.42,291.16 177.46,270.92 137.09,244.34 195.60,294.90" fill="#6a006a" stroke="#6a006a" stroke-width="0.8"/>
<polyline points="193.32,298.30 195.60,294.90" stroke="#000" stroke-opacity="0.8" stroke-width="1.1"/>
<polyline points="195.42,291.16 195.60,294.90" stroke="#000" stroke-opacity="0.8" stroke-width="1.1"/>
<polygon points="168.87,285.47 209.14,306.60 177.46,270.92 137.09,244.34" fill="none" stroke="#000" stroke-opacity="0.8" stroke-width="1.1" stroke-linejoin="round"/>
<polygon points="385.89,376.23 423.32,368.05 351.82,368.30" fill="#CCFFFF" stroke="#CCFFFF" stroke-width="0.8"/>
<polygon points="423.32,368.05 389.09,365.42 351.82,368.30" fill="#CCFFFF" stroke="#CCFFFF" stroke-width="0.8"/>
<polygon points="385.89,376.23 423.32,368.05 389.09,365.42 351.82,368.30" fill="none" stroke="#000" stroke-opacity="0.8" stroke-width="1.1" stroke-linejoin="round"/>
<polygon points="569.36,298.67 531.68,325.44 564.99,306.41" fill="#CCFFFF" stroke="#CCFFFF" stroke-width="0.8"/>
<polygon points="568.78,304.24 604.72,273.56 569.36,298.67 564.99,306.41" fill="#6a006a" stroke="#6a006a" stroke-width="0.8"/>
<polygon points="577.69,292.79 567.24,300.22 531.68,325.44 569.36,298.67" fill="#CCFFFF" stroke="#CCFFFF" stroke-width="0.8"/>
<polygon points="604.72,273.56 577.69,292.79 569.36,298.67" fill="#6a006a" stroke="#6a006a" stroke-width="0.8"/>
<polyline points="569.36,298.67 564.99,306.41" stroke="#000" stroke-opacity="0.8" stroke-width="1.1"/>
<polyline points="577.69,292.79 569.36,298.67" stroke="#000" stroke-opacity="0.8" stroke-width="1.1"/>
<polygon points="568.78,304.24 604.72,273.56 567.24,300.22 531.68,325.44" fill="none" stroke="#000" stroke-opacity="0.2" stroke-width="1.1" stroke-linejoin="round"/>
<polygon points="658.27,218.88 640.12,239.15 656.97,222.15" fill="#6a006a" stroke="#6a006a" stroke-width="0.8"/>
<polygon points="679.55,199.37 714.98,155.57 658.27,218.88 656.97,222.15" fill="#9999FF" stroke="#9999FF" stroke-width="0.8"/>
<polygon points="663.13,214.06 640.12,239.15 658.27,218.88" fill="#6a006a" stroke="#6a006a" stroke-width="0.8"/>
<polygon points="714.98,155.57 675.05,201.05 663.13,214.06 658.27,218.88" fill="#9999FF" stroke="#9999FF" stroke-width="0.8"/>
<polyline points="658.27,218.88 656.97,222.15" stroke="#000" stroke-opacity="0.8" stroke-width="1.1"/>
<polyline points="663.13,214.06 658.27,218.88" stroke="#000" stroke-opacity="0.8" stroke-width="1.1"/>
<polygon points="679.55,199.37 714.98,155.57 675.05,201.05 640.12,239.15" fill="none" stroke="#000" stroke-opacity="0.2" stroke-width="1.1" stroke-linejoin="round"/>
<polygon points="458.61,364.40 495.49,346.86 423.32,368.05" fill="#CCFFFF" stroke="#CCFFFF" stroke-width="0.8"/>
<polygon points="495.49,346.86 459.95,355.86 423.32,368.05" fill="#CCFFFF" stroke="#CCFFFF" stroke-width="0.8"/>
<polygon points="458.61,364.40 495.49,346.86 459.95,355.86 423.32,368.05" fill="none" stroke="#000" stroke-opacity="0.8" stroke-width="1.1" stroke-linejoin="round"/>
<polygon points="274.51,361.32 313.66,366.99 241.46,336.79" fill="#CCFFFF" stroke="#CCFFFF" stroke-width="0.8"/>
<polygon points="313.66,366.99 280.57,347.83 241.46,336.79" fill="#CCFFFF" stroke="#CCFFFF" stroke-width="0.8"/>
<polygon points="274.51,361.32 313.66,366.99 280.57,347.83 241.46,336.79" fill="none" stroke="#000" stroke-opacity="0.8" stroke-width="1.1" stroke-linejoin="round"/>
<polygon points="201.24,321.11 241.46,336.79 194.68,303.72 190.95,309.78" fill="#CCFFFF" stroke="#CCFFFF" stroke-width="0.8"/>
<polygon points="194.68,303.72 168.87,285.47 190.95,309.78" fill="#6a006a" stroke="#6a006a" stroke-width="0.8"/>
<polygon points="241.46,336.79 209.14,306.60 193.32,298.30 194.68,303.72" fill="#CCFFFF" stroke="#CCFFFF" stroke-width="0.8"/>
<polygon points="193.32,298.30 168.87,285.47 194.68,303.72" fill="#6a006a" stroke="#6a006a" stroke-width="0.8"/>
<polyline points="194.68,303.72 190.95,309.78" stroke="#000" stroke-opacity="0.8" stroke-width="1.1"/>
<polyline points="193.32,298.30 194.68,303.72" stroke="#000" stroke-opacity="0.8" stroke-width="1.1"/>
<polygon points="201.24,321.11 241.46,336.79 209.14,306.60 168.87,285.47" fill="none" stroke="#000" stroke-opacity="0.8" stroke-width="1.1" stroke-linejoin="round"/>
<polygon points="532.26,331.13 562.71,308.72 563.60,307.25 495.49,346.86" fill="#CCFFFF" stroke="#CCFFFF" stroke-width="0.8"/>
<polygon points="562.71,308.72 568.78,304.24 563.60,307.25" fill="#6a006a" stroke="#6a006a" stroke-width="0.8"/>
<polygon points="564.99,306.41 531.68,325.44 495.49,346.86 563.60,307.25" fill="#CCFFFF" stroke="#CCFFFF" stroke-width="0.8"/>
<polygon points="568.78,304.24 564.99,306.41 563.60,307.25" fill="#6a006a" stroke="#6a006a" stroke-width="0.8"/>
<polyline points="562.71,308.72 563.60,307.25" stroke="#000" stroke-opacity="0.8" stroke-width="1.1"/>
<polyline points="564.99,306.41 563.60,307.25" stroke="#000" stroke-opacity="0.8" stroke-width="1.1"/>
<polygon points="532.26,331.13 568.78,304.24 531.68,325.44 495.49,346.86" fill="none" stroke="#000" stroke-opacity="0.8" stroke-width="1.1" stroke-linejoin="round"/>
<polygon points="643.68,239.46 649.50,232.96 652.27,226.42 604.72,273.56" fill="#6a006a" stroke="#6a006a" stroke-width="0.8"/>
<polygon points="649.50,232.96 679.55,199.37 652.27,226.42" fill="#9999FF" stroke="#9999FF" stroke-width="0.8"/>
<polygon points="656.97,222.15 640.12,239.15 604.72,273.56 652.27,226.42" fill="#6a006a" stroke="#6a006a" stroke-width="0.8"/>
<polygon points="679.55,199.37 656.97,222.15 652.27,226.42" fill="#9999FF" stroke="#9999FF" stroke-width="0.8"/>
<polyline points="649.50,232.96 652.27,226.42" stroke="#000" stroke-opacity="0.8" stroke-width="1.1"/>
<polyline points="656.97,222.15 652.27,226.42" stroke="#000" stroke-opacity="0.8" stroke-width="1.1"/>
<polygon points="643.68,239.46 679.55,199.37 640.12,239.15 604.72,273.56" fill="none" stroke="#000" stroke-opacity="0.2" stroke-width="1.1" stroke-linejoin="round"/>
<polygon points="347.60,380.27 385.89,376.23 313.66,366.99" fill="#CCFFFF" stroke="#CCFFFF" stroke-width="0.8"/>
<polygon points="385.89,376.23 351.82,368.30 313.66,366.99" fill="#CCFFFF" stroke="#CCFFFF" stroke-width="0.8"/>
<polygon points="347.60,380.27 385.89,376.23 351.82,368.30 313.66,366.99" fill="none" stroke="#000" stroke-opacity="0.8" stroke-width="1.1" stroke-linejoin="round"/>
<polygon points="420.97,377.96 458.61,364.40 385.89,376.23" fill="#CCFFFF" stroke="#CCFFFF" stroke-width="0.8"/>
<polygon points="458.61,364.40 423.32,368.05 385.89,376.23" fill="#CCFFFF" stroke="#CCFFFF" stroke-width="0.8"/>
<polygon points="420.97,377.96 458.61,364.40 423.32,368.05 385.89,376.23" fill="none" stroke="#000" stroke-opacity="0.8" stroke-width="1.1" stroke-linejoin="round"/>
<polygon points="607.32,275.78 643.68,239.46 568.78,304.24" fill="#6a006a" stroke="#6a006a" stroke-width="0.8"/>
<polygon points="643.68,239.46 604.72,273.56 568.78,304.24" fill="#6a006a" stroke="#6a006a" stroke-width="0.8"/>
<polygon points="607.32,275.78 643.68,239.46 604.72,273.56 568.78,304.24" fill="none" stroke="#000" stroke-opacity="0.2" stroke-width="1.1" stroke-linejoin="round"/>
<polygon points="495.08,354.15 532.26,331.13 458.61,364.40" fill="#CCFFFF" stroke="#CCFFFF" stroke-width="0.8"/>
<polygon points="532.26,331.13 495.49,346.86 458.61,364.40" fill="#CCFFFF" stroke="#CCFFFF" stroke-width="0.8"/>
<polygon points="495.08,354.15 532.26,331.13 495.49,346.86 458.61,364.40" fill="none" stroke="#000" stroke-opacity="0.8" stroke-width="1.1" stroke-linejoin="round"/>
<polygon points="234.30,351.12 274.51,361.32 201.24,321.11" fill="#CCFFFF" stroke="#CCFFFF" stroke-width="0.8"/>
<polygon points="274.51,361.32 241.46,336.79 201.24,321.11" fill="#CCFFFF" stroke="#CCFFFF" stroke-width="0.8"/>
<polygon points="234.30,351.12 274.51,361.32 241.46,336.79 201.24,321.11" fill="none" stroke="#000" stroke-opacity="0.8" stroke-width="1.1" stroke-linejoin="round"/>
<polygon points="308.37,380.03 347.60,380.27 274.51,361.32" fill="#CCFFFF" stroke="#CCFFFF" stroke-width="0.8"/>
<polygon points="347.60,380.27 313.66,366.99 274.51,361.32" fill="#CCFFFF" stroke="#CCFFFF" stroke-width="0.8"/>
<polygon points="308.37,380.03 347.60,380.27 313.66,366.99 274.51,361.32" fill="none" stroke="#000" stroke-opacity="0.8" stroke-width="1.1" stroke-linejoin="round"/>
<polygon points="382.51,387.44 420.97,377.96 347.60,380.27" fill="#CCFFFF" stroke="#CCFFFF" stroke-width="0.8"/>
<polygon points="420.97,377.96 385.89,376.23 347.60,380.27" fill="#CCFFFF" stroke="#CCFFFF" stroke-width="0.8"/>
<polygon points="382.51,387.44 420.97,377.96 385.89,376.23 347.60,380.27" fill="none" stroke="#000" stroke-opacity="0.8" stroke-width="1.1" stroke-linejoin="round"/>
<polygon points="552.93,315.89 532.26,331.13 550.49,320.22" fill="#CCFFFF" stroke="#CCFFFF" stroke-width="0.8"/>
<polygon points="570.41,308.30 607.32,275.78 552.93,315.89 550.49,320.22" fill="#6a006a" stroke="#6a006a" stroke-width="0.8"/>
<polygon points="562.71,308.72 532.26,331.13 552.93,315.89" fill="#CCFFFF" stroke="#CCFFFF" stroke-width="0.8"/>
<polygon points="607.32,275.78 568.78,304.24 562.71,308.72 552.93,315.89" fill="#6a006a" stroke="#6a006a" stroke-width="0.8"/>
<polyline points="552.93,315.89 550.49,320.22" stroke="#000" stroke-opacity="0.8" stroke-width="1.1"/>
<polyline points="562.71,308.72 552.93,315.89" stroke="#000" stroke-opacity="0.8" stroke-width="1.1"/>
<polygon points="570.41,308.30 607.32,275.78 568.78,304.24 532.26,331.13" fill="none" stroke="#000" stroke-opacity="0.2" stroke-width="1.1" stroke-linejoin="round"/>
<polygon points="457.19,373.22 495.08,354.15 420.97,377.96" fill="#CCFFFF" stroke="#CCFFFF" stroke-width="0.8"/>
<polygon points="495.08,354.15 458.61,364.40 420.97,377.96" fill="#CCFFFF" stroke="#CCFFFF" stroke-width="0.8"/>
<polygon points="457.19,373.22 495.08,354.15 458.61,364.40 420.97,377.96" fill="none" stroke="#000" stroke-opacity="0.8" stroke-width="1.1" stroke-linejoin="round"/>
<polygon points="268.12,375.35 308.37,380.03 234.30,351.12" fill="#CCFFFF" stroke="#CCFFFF" stroke-width="0.8"/>
<polygon points="308.37,380.03 274.51,361.32 234.30,351.12" fill="#CCFFFF" stroke="#CCFFFF" stroke-width="0.8"/>
<polygon points="268.12,375.35 308.37,380.03 274.51,361.32 234.30,351.12" fill="none" stroke="#000" stroke-opacity="0.8" stroke-width="1.1" stroke-linejoin="round"/>
<polygon points="343.15,392.70 382.51,387.44 308.37,380.03" fill="#CCFFFF" stroke="#CCFFFF" stroke-width="0.8"/>
<polygon points="382.51,387.44 347.60,380.27 308.37,380.03" fill="#CCFFFF" stroke="#CCFFFF" stroke-width="0.8"/>
<polygon points="343.15,392.70 382.51,387.44 347.60,380.27 308.37,380.03" fill="none" stroke="#000" stroke-opacity="0.8" stroke-width="1.1" stroke-linejoin="round"/>
<polygon points="532.88,336.96 538.52,332.65 543.34,324.78 495.08,354.15" fill="#CCFFFF" stroke="#CCFFFF" stroke-width="0.8"/>
<polygon points="538.52,332.65 570.41,308.30 543.34,324.78" fill="#6a006a" stroke="#6a006a" stroke-width="0.8"/>
<polygon points="550.49,320.22 532.26,331.13 495.08,354.15 543.34,324.78" fill="#CCFFFF" stroke="#CCFFFF" stroke-width="0.8"/>
<polygon points="570.41,308.30 550.49,320.22 543.34,324.78" fill="#6a006a" stroke="#6a006a" stroke-width="0.8"/>
<polyline points="538.52,332.65 543.34,324.78" stroke="#000" stroke-opacity="0.8" stroke-width="1.1"/>
<polyline points="550.49,320.22 543.34,324.78" stroke="#000" stroke-opacity="0.8" stroke-width="1.1"/>
<polygon points="532.88,336.96 570.41,308.30 532.26,331.13 495.08,354.15" fill="none" stroke="#000" stroke-opacity="0.8" stroke-width="1.1" stroke-linejoin="round"/>
<polygon points="418.51,388.24 457.19,373.22 382.51,387.44" fill="#CCFFFF" stroke="#CCFFFF" stroke-width="0.8"/>
<polygon points="457.19,373.22 420.97,377.96 382.51,387.44" fill="#CCFFFF" stroke="#CCFFFF" stroke-width="0.8"/>
<polygon points="418.51,388.24 457.19,373.22 420.97,377.96 382.51,387.44" fill="none" stroke="#000" stroke-opacity="0.8" stroke-width="1.1" stroke-linejoin="round"/>
<polygon points="494.66,361.67 532.88,336.96 457.19,373.22" fill="#CCFFFF" stroke="#CCFFFF" stroke-width="0.8"/>
<polygon points="532.88,336.96 495.08,354.15 457.19,373.22" fill="#CCFFFF" stroke="#CCFFFF" stroke-width="0.8"/>
<polygon points="494.66,361.67 532.88,336.96 495.08,354.15 457.19,373.22" fill="none" stroke="#000" stroke-opacity="0.8" stroke-width="1.1" stroke-linejoin="round"/>
<polygon points="302.80,393.59 343.15,392.70 268.12,375.35" fill="#CCFFFF" stroke="#CCFFFF" stroke-width="0.8"/>
<polygon points="343.15,392.70 308.37,380.03 268.12,375.35" fill="#CCFFFF" stroke="#CCFFFF" stroke-width="0.8"/>
<polygon points="302.80,393.59 343.15,392.70 308.37,380.03 268.12,375.35" fill="none" stroke="#000" stroke-opacity="0.8" stroke-width="1.1" stroke-linejoin="round"/>
<polygon points="378.95,399.08 418.51,388.24 343.15,392.70" fill="#CCFFFF" stroke="#CCFFFF" stroke-width="0.8"/>
<polygon points="418.51,388.24 382.51,387.44 343.15,392.70" fill="#CCFFFF" stroke="#CCFFFF" stroke-width="0.8"/>
<polygon points="378.95,399.08 418.51,388.24 382.51,387.44 343.15,392.70" fill="none" stroke="#000" stroke-opacity="0.8" stroke-width="1.1" stroke-linejoin="round"/>
<polygon points="455.69,382.35 494.66,361.67 418.51,388.24" fill="#CCFFFF" stroke="#CCFFFF" stroke-width="0.8"/>
<polygon points="494.66,361.67 457.19,373.22 418.51,388.24" fill="#CCFFFF" stroke="#CCFFFF" stroke-width="0.8"/>
<polygon points="455.69,382.35 494.66,361.67 457.19,373.22 418.51,388.24" fill="none" stroke="#000" stroke-opacity="0.8" stroke-width="1.1" stroke-linejoin="round"/>
<polygon points="338.45,405.63 378.95,399.08 302.80,393.59" fill="#CCFFFF" stroke="#CCFFFF" stroke-width="0.8"/>
<polygon points="378.95,399.08 343.15,392.70 302.80,393.59" fill="#CCFFFF" stroke="#CCFFFF" stroke-width="0.8"/>
<polygon points="338.45,405.63 378.95,399.08 343.15,392.70 302.80,393.59" fill="none" stroke="#000" stroke-opacity="0.8" stroke-width="1.1" stroke-linejoin="round"/>
<polygon points="415.90,398.90 455.69,382.35 378.95,399.08" fill="#CCFFFF" stroke="#CCFFFF" stroke-width="0.8"/>
<polygon points="455.69,382.35 418.51,388.24 378.95,399.08" fill="#CCFFFF" stroke="#CCFFFF" stroke-width="0.8"/>
<polygon points="415.90,398.90 455.69,382.35 418.51,388.24 378.95,399.08" fill="none" stroke="#000" stroke-opacity="0.8" stroke-width="1.1" stroke-linejoin="round"/>
<polygon points="375.19,411.20 415.90,398.90 338.45,405.63" fill="#CCFFFF" stroke="#CCFFFF" stroke-width="0.8"/>
<polygon points="415.90,398.90 378.95,399.08 338.45,405.63" fill="#CCFFFF" stroke="#CCFFFF" stroke-width="0.8"/>
<polygon points="375.19,411.20 415.90,398.90 378.95,399.08 338.45,405.63" fill="none" stroke="#000" stroke-opacity="0.8" stroke-width="1.1" stroke-linejoin="round"/>
<polyline points="44.58,88.94 75.01,146.00 105.83,197.82 137.09,244.34 168.87,285.47 201.24,321.11 234.30,351.12 268.12,375.35 302.80,393.59 338.45,405.63 375.19,411.20 415.90,398.90 455.69,382.35 494.66,361.67 532.88,336.96 570.41,308.30 607.32,275.78 643.68,239.46 679.55,199.37 714.98,155.57 750.02,108.09" fill="none" stroke="#000" stroke-opacity="0.8" stroke-width="1.6" stroke-linejoin="round"/>
<polyline points="44.58,88.94 85.51,132.02 125.13,169.77 163.53,202.46 200.82,230.34 237.07,253.63 272.36,272.51 306.77,287.18 340.36,297.79 373.19,304.49 405.34,307.41 435.16,314.72 465.77,316.69 497.23,313.11 529.64,303.75 563.09,288.34 597.68,266.56 633.54,238.07 670.78,202.48 709.55,159.32 750.02,108.09" fill="none" stroke="#000" stroke-opacity="0.8" stroke-width="1.4" stroke-linejoin="round"/></g>
<polyline points="40.8,546.3 355.8,689.6 750.8,566.6" fill="none" stroke="#000" stroke-width="2" stroke-linejoin="miter"/>
<g stroke="#000" stroke-width="1.8"><line x1="355.85" y1="689.67" x2="355.85" y2="698.67"/><line x1="395.95" y1="677.18" x2="395.95" y2="686.18"/><line x1="435.13" y1="664.97" x2="435.13" y2="673.97"/><line x1="473.42" y1="653.04" x2="473.42" y2="662.04"/><line x1="510.86" y1="641.38" x2="510.86" y2="650.38"/><line x1="547.46" y1="629.97" x2="547.46" y2="638.97"/><line x1="583.26" y1="618.82" x2="583.26" y2="627.82"/><line x1="618.28" y1="607.91" x2="618.28" y2="616.91"/><line x1="652.54" y1="597.23" x2="652.54" y2="606.23"/><line x1="686.08" y1="586.78" x2="686.08" y2="595.78"/><line x1="718.92" y1="576.55" x2="718.92" y2="585.55"/><line x1="751.07" y1="566.54" x2="751.07" y2="575.54"/></g>
<g stroke="#707070" stroke-width="1.6"><line x1="751.07" y1="566.54" x2="760.57" y2="566.54"/><line x1="753.40" y1="497.30" x2="762.90" y2="497.30"/><line x1="755.78" y1="427.12" x2="765.28" y2="427.12"/><line x1="758.18" y1="355.98" x2="767.68" y2="355.98"/><line x1="760.62" y1="283.84" x2="770.12" y2="283.84"/><line x1="763.09" y1="210.70" x2="772.59" y2="210.70"/><line x1="765.60" y1="136.53" x2="775.10" y2="136.53"/><line x1="768.14" y1="61.31" x2="777.64" y2="61.31"/></g>
<g font-family="Liberation Serif" font-size="29.3" fill="#000" stroke="#000" stroke-width="0.0">
<text transform="translate(776.37,576.54) scale(1,1.045)">0</text><text transform="translate(778.70,507.30) scale(1,1.045)">1</text><text transform="translate(781.08,437.12) scale(1,1.045)">2</text><text transform="translate(783.48,365.98) scale(1,1.045)">3</text><text transform="translate(785.92,293.84) scale(1,1.045)">4</text><text transform="translate(788.39,220.70) scale(1,1.045)">5</text><text transform="translate(790.90,146.53) scale(1,1.045)">6</text><text transform="translate(793.44,71.31) scale(1,1.045)">7</text>
<text transform="translate(376.20,732.60) scale(1,1.045)" text-anchor="middle">-2</text><text transform="translate(529.30,687.70) scale(1,1.045)" text-anchor="middle">-0.4</text><text transform="translate(670.70,642.50) scale(1,1.045)" text-anchor="middle">1.2</text>
<text transform="translate(834.20,31.60) scale(1,1.045)" text-anchor="middle">SA</text>
<text transform="translate(597.00,735.30) scale(1,1.045)">Positive Emotion</text>
<text transform="translate(87.00,702.60) scale(1,1.045)" text-anchor="middle">Team Positive</text>
<text transform="translate(87.00,735.70) scale(1,1.045)" text-anchor="middle">Emotional</text>
<text transform="translate(87.00,770.00) scale(1,1.045)" text-anchor="middle">Display Norm</text>
</g>
</svg>
</body></html>
